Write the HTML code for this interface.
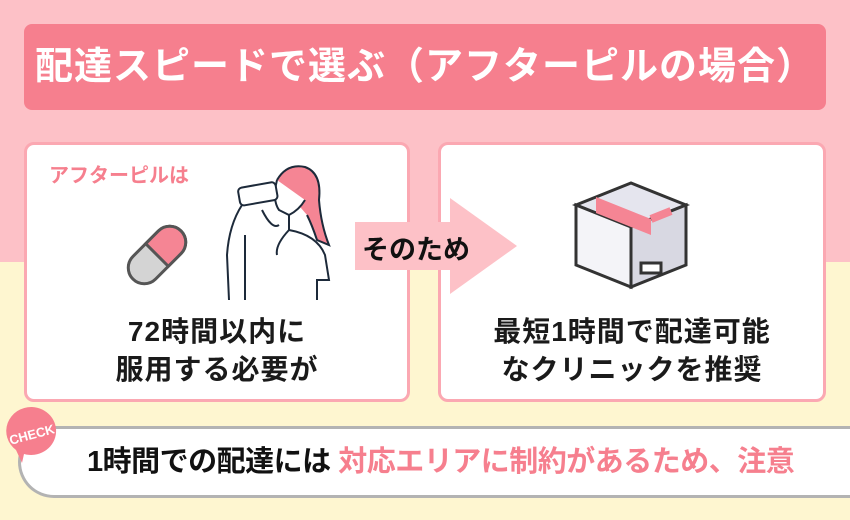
<html><head><style>
body{margin:0;width:850px;height:520px;position:relative;overflow:hidden;font-family:"Liberation Sans","Noto Sans CJK JP",sans-serif;font-weight:bold;background:#fef6d0}
.top{position:absolute;left:0;top:0;width:850px;height:262px;background:#fdc1c7}
.title{position:absolute;left:24px;top:24px;width:802px;height:86px;background:#f67f8e;border-radius:8px;color:#fff;font-size:38px;line-height:86px;text-align:center;letter-spacing:1px}
.card{position:absolute;top:142px;height:254px;background:#fff;border:3px solid #fba8b2;border-radius:10px}
.big{position:absolute;width:100%;text-align:center;font-size:28px;line-height:38px;color:#1a1a1a;top:168px;letter-spacing:1px}
.arrow{position:absolute;left:355px;top:198px}
.check{position:absolute;left:18px;top:426px;width:840px;height:66px;background:#fff;border:3px solid #b3b3b3;border-right:none;border-radius:36px 0 0 36px}
.ct{position:absolute;left:66px;top:0;line-height:66px;font-size:29px;color:#111;letter-spacing:-0.5px}
</style></head><body>
<div class="top"></div>
<div class="title">配達スピードで選ぶ（アフターピルの場合）</div>
<div class="card" style="left:24px;width:380px">
 <div style="position:absolute;left:22px;top:14px;color:#f67f8e;font-size:20px">アフターピルは</div>
 <svg style="position:absolute;left:90px;top:70px" width="80" height="80" viewBox="0 0 80 80">
  <g transform="rotate(-45 40 40)"><rect x="6" y="24" width="68" height="32" rx="16" fill="#d4d4d4" stroke="#555" stroke-width="3"/>
  <path d="M40 24 H58 A16 16 0 0 1 58 56 H40 Z" fill="#f58594" stroke="#555" stroke-width="3"/></g>
 </svg>
 <svg style="position:absolute;left:190px;top:10px" width="120" height="145" viewBox="0 0 120 145" fill="none" stroke="#1d2a3a" stroke-width="2">
  <path d="M60 25 Q70 8 88 12 Q105 18 102 45 Q104 70 112 90 L100 85 Q95 70 90 60" fill="#f58594"/>
  <path d="M60 25 Q55 45 62 55 L72 60 Q82 55 88 45" fill="#fff"/>
  <rect x="22" y="30" width="38" height="18" rx="4" fill="#fff" transform="rotate(-10 40 40)"/>
  <path d="M12 145 L10 100 Q12 70 25 50 M45 55 Q55 75 62 70 M72 60 L72 75 Q58 90 60 100 M72 75 Q100 80 108 100 L112 125 L100 125 L100 145 M28 80 L28 145"/>
 </svg>
 <div class="big">72時間以内に<br>服用する必要が</div>
</div>
<div class="card" style="left:438px;width:382px">
 <svg style="position:absolute;left:130px;top:30px" width="120" height="115" viewBox="0 0 120 115" stroke="#333" stroke-width="3" fill="#e5e5ee">
  <path d="M5 30 L60 8 L115 30 L60 52 Z"/>
  <path d="M5 30 V90 L60 112 V52 Z" fill="#f4f4f8"/>
  <path d="M115 30 V90 L60 112 V52 Z" fill="#d8d8e2"/>
  <path d="M25 22 L80 44 V60 L25 38 Z" fill="#f58594" stroke="none"/>
  <path d="M80 44 L100 36" stroke="#f58594" stroke-width="8"/>
  <rect x="70" y="88" width="20" height="10" fill="#fff"/>
 </svg>
 <div class="big">最短1時間で配達可能<br>なクリニックを推奨</div>
</div>
<svg class="arrow" width="162" height="96" viewBox="0 0 162 96"><path d="M0 24 H95 V0 L162 48 L95 96 V72 H0 Z" fill="#fdc1c7"/></svg>
<div style="position:absolute;left:362px;top:228px;font-size:27px;color:#111">そのため</div>
<div class="check"><div class="ct">1時間での配達には <span style="color:#f67f8e">対応エリアに制約があるため、注意</span></div></div>
<svg style="position:absolute;left:4px;top:405px" width="58" height="58" viewBox="0 0 58 58"><path d="M28 2 A25 24 0 1 1 20 49 L18 58 L12 45 A25 24 0 0 1 28 2Z" fill="#f67f8e"/><text x="28" y="34" font-size="13" fill="#fff" text-anchor="middle" font-family="Liberation Sans" font-weight="bold" transform="rotate(-15 28 30)">CHECK</text></svg>
</body></html>
